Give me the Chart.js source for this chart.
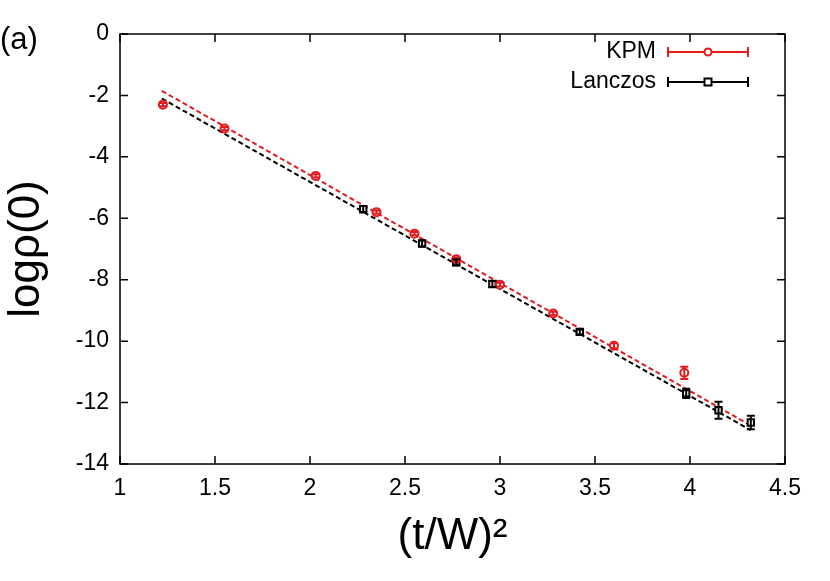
<!DOCTYPE html>
<html><head><meta charset="utf-8">
<script src="https://cdn.jsdelivr.net/npm/chart.js@4"></script>
<style>body{margin:0;background:#fff}#c{display:block}</style>
</head><body>
<div style="width:830px;height:581px"><canvas id="c"></canvas></div>
<script>
// KPM
const kpmX = [1.226, 1.55, 2.03, 2.35, 2.55, 2.77, 3.0, 3.28, 3.6, 3.97];
const kpmY = [-2.3, -3.08, -4.62, -5.8, -6.5, -7.33, -8.16, -9.1, -10.15, -11.03];
const kpmErr = [0.05, 0.05, 0.05, 0.05, 0.05, 0.06, 0.06, 0.06, 0.08, 0.2];
// Lanczos
const lanX = [2.28, 2.59, 2.77, 2.96, 3.42, 3.98, 4.15, 4.32];
const lanY = [-5.7, -6.82, -7.43, -8.14, -9.7, -11.7, -12.25, -12.65];
const lanErr = [0.1, 0.1, 0.1, 0.1, 0.08, 0.15, 0.28, 0.22];
// fitted lines
const fitX = [1.22, 4.32];
const kpmFit = [-1.85, -12.75];
const lanFit = [-2.1, -12.9];

const pts = (xs, ys) => xs.map((x, i) => ({x: x, y: ys[i]}));

const decor = {
  id: 'decor',
  afterDatasetsDraw(chart) {
    const c = chart.ctx, xs = chart.scales.x, ys = chart.scales.y, a = chart.chartArea;
    c.save();
    // error bars
    [[kpmX, kpmY, kpmErr, '#e41a1c'], [lanX, lanY, lanErr, '#000']].forEach(([X, Y, E, col]) => {
      c.strokeStyle = col; c.lineWidth = 2;
      X.forEach((x, i) => {
        const px = xs.getPixelForValue(x), p1 = ys.getPixelForValue(Y[i] + E[i]), p2 = ys.getPixelForValue(Y[i] - E[i]);
        c.beginPath(); c.moveTo(px, p1); c.lineTo(px, p2);
        c.moveTo(px - 4, p1); c.lineTo(px + 4, p1); c.moveTo(px - 4, p2); c.lineTo(px + 4, p2); c.stroke();
      });
    });
    // frame and ticks
    c.strokeStyle = '#000'; c.lineWidth = 1.5;
    c.strokeRect(a.left, a.top, a.right - a.left, a.bottom - a.top);
    c.beginPath();
    xs.ticks.forEach(t => { const p = xs.getPixelForValue(t.value);
      c.moveTo(p, a.bottom); c.lineTo(p, a.bottom - 8); c.moveTo(p, a.top); c.lineTo(p, a.top + 8); });
    ys.ticks.forEach(t => { const p = ys.getPixelForValue(t.value);
      c.moveTo(a.left, p); c.lineTo(a.left + 8, p); c.moveTo(a.right, p); c.lineTo(a.right - 8, p); });
    c.stroke();
    // legend
    c.font = '23px "Liberation Sans", Arial'; c.textAlign = 'right'; c.textBaseline = 'middle';
    [['KPM', '#e41a1c', 'circle', 52], ['Lanczos', '#000', 'rect', 82]].forEach(([lab, col, sh, y]) => {
      c.fillStyle = '#000'; c.fillText(lab, 656, y);
      c.strokeStyle = col; c.lineWidth = 2;
      c.beginPath(); c.moveTo(668, y); c.lineTo(748, y);
      c.moveTo(668, y - 5); c.lineTo(668, y + 5); c.moveTo(748, y - 5); c.lineTo(748, y + 5); c.stroke();
      c.fillStyle = '#fff'; c.beginPath();
      if (sh === 'circle') c.arc(708, y, 3.5, 0, 2 * Math.PI); else c.rect(704.5, y - 3.5, 7, 7);
      c.fill(); c.stroke();
    });
    // panel label
    c.textAlign = 'left'; c.font = '31px "Liberation Sans", Arial'; c.fillStyle = '#000';
    c.fillText('(a)', 0, 40);
    c.restore();
  }
};

new Chart(document.getElementById('c'), {
  type: 'scatter',
  data: {
    datasets: [
      {data: pts(kpmX, kpmY), pointStyle: 'circle', pointRadius: 4, borderColor: '#e41a1c', backgroundColor: '#fff', borderWidth: 2},
      {data: pts(lanX, lanY), pointStyle: 'rect', pointRadius: 4.5, borderColor: '#000', backgroundColor: '#fff', borderWidth: 2},
      {type: 'line', data: pts(fitX, kpmFit), borderColor: '#e41a1c', borderDash: [5, 3], borderWidth: 2, pointRadius: 0},
      {type: 'line', data: pts(fitX, lanFit), borderColor: '#000', borderDash: [5, 3], borderWidth: 2, pointRadius: 0}
    ]
  },
  options: {
    responsive: true, maintainAspectRatio: false, animation: false,
    layout: {padding: {top: 34, right: 45, left: 0, bottom: 0}},
    plugins: {legend: {display: false}, tooltip: {enabled: false}},
    scales: {
      x: {min: 1, max: 4.5, grid: {display: false},
        ticks: {stepSize: 0.5, color: '#000', font: {size: 23, family: 'Liberation Sans'}, maxRotation: 0, callback: v => String(v)},
        title: {display: true, text: '(t/W)²', color: '#000', font: {size: 44, family: 'Liberation Sans'}, padding: {top: 0, bottom: 18}},
        afterFit: s => { s.height = 117; }},
      y: {min: -14, max: 0, grid: {display: false},
        ticks: {stepSize: 2, color: '#000', font: {size: 23, family: 'Liberation Sans'}},
        title: {display: true, text: 'logρ(0)', color: '#000', font: {size: 44, family: 'Liberation Sans'}, padding: 0},
        afterFit: s => { s.width = 120; }}
    }
  },
  plugins: [decor]
});
</script>
</body></html>
